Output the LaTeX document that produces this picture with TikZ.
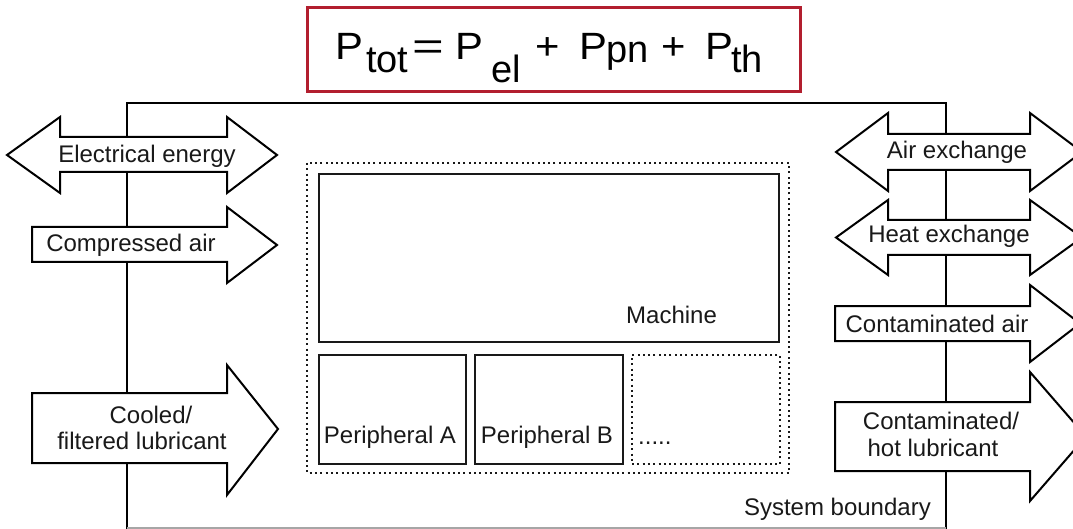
\documentclass[tikz,border=0pt]{standalone}
\usepackage{fontspec}
\setmainfont{Liberation Sans}
\newfontfamily\titlefont{Liberation Sans}[FakeStretch=1.1]
\definecolor{titlered}{RGB}{178,30,46}
\definecolor{ink}{RGB}{25,25,25}
\begin{document}
\begin{tikzpicture}[x=1pt,y=-1pt,
  lbl/.style={font=\fontsize{24}{28}\selectfont, inner sep=0pt, text=ink},
  eqtxt/.style={font=\titlefont\fontsize{38}{40}\selectfont, inner sep=0pt, anchor=base west, text=black},
  subtxt/.style={font=\fontsize{38}{40}\selectfont, inner sep=0pt, anchor=base west, text=black},
  arrowshape/.style={draw=black, line width=2pt, fill=white, line join=miter},
  box/.style={draw=ink, line width=2.2pt},
  dotbox/.style={draw=ink, line width=2pt, dash pattern=on 2pt off 3.3pt},
  bound/.style={draw=black, line width=2pt},
  titlebox/.style={draw=titlered, line width=3pt, inner sep=0pt}]
\clip (0,0) rectangle (1073,529);
\fill[white] (0,0) rectangle (1073,529);

% title
\node[titlebox, minimum width=493pt, minimum height=84pt] (title) at (553.5,50) {};
\node[eqtxt] (p1) at (335,60) {P};
\node[subtxt] (s1) at (366,73) {tot};
\node[eqtxt] (eq) at (412,60) {\scalebox{1.3}[1]{=}};
\node[eqtxt] (p2) at (455,60) {P};
\node[subtxt] (s2) at (491,83) {el};
\node[eqtxt] (pl1) at (535,60) {+};
\node[eqtxt] (p3) at (579,60) {P};
\node[subtxt] (s3) at (606,63) {pn};
\node[eqtxt] (pl2) at (661,60) {+};
\node[eqtxt] (p4) at (705,60) {P};
\node[subtxt] (s4) at (731,73) {th};

% system boundary
\coordinate (bl) at (127,529);
\coordinate (tl) at (127,103);
\coordinate (tr) at (946,103);
\coordinate (br) at (946,529);
\draw[bound] (bl) -- (tl) -- (tr) -- (br);
\draw[black!35, line width=1.5pt] (127,528) -- (946,528);
\node[lbl, anchor=base east] (sysb) at (931,515) {System boundary};

% left arrows
\draw[arrowshape] (7,155) -- (60,117) -- (60,137) -- (227,137) -- (227,117) -- (277,155)
  -- (227,193) -- (227,172) -- (60,172) -- (60,193) -- cycle;
\node[lbl, anchor=base] (elec) at (147,163) {Electrical energy};

\draw[arrowshape] (32,227) -- (227,227) -- (227,207) -- (277,245) -- (227,283) -- (227,262) -- (32,262) -- cycle;
\node[lbl, anchor=base] (comp) at (131,252) {Compressed air};

\draw[arrowshape] (32,393) -- (227,393) -- (227,365) -- (278,429) -- (227,495) -- (227,463) -- (32,463) -- cycle;
\node[lbl, anchor=base] (cool1) at (151,423) {Cooled/};
\node[lbl, anchor=base] (cool2) at (142,449) {filtered lubricant};

% right arrows
\draw[arrowshape] (836,152) -- (888,113) -- (888,134) -- (1030,134) -- (1030,113) -- (1082,152)
  -- (1030,191) -- (1030,170) -- (888,170) -- (888,191) -- cycle;
\node[lbl, anchor=base] (airx) at (957,159) {Air exchange};

\draw[arrowshape] (836,237.5) -- (888,200) -- (888,220) -- (1030,220) -- (1030,200) -- (1082,237.5)
  -- (1030,275) -- (1030,255) -- (888,255) -- (888,275) -- cycle;
\node[lbl, anchor=base] (heatx) at (949,243) {Heat exchange};

\draw[arrowshape] (835,306) -- (1030,306) -- (1030,285) -- (1080,323.5) -- (1030,362) -- (1030,341) -- (835,341) -- cycle;
\node[lbl, anchor=base] (contair) at (937,332) {Contaminated air};

\draw[arrowshape] (835,402) -- (1030,402) -- (1030,372) -- (1086,436.5) -- (1030,501) -- (1030,471) -- (835,471) -- cycle;
\node[lbl, anchor=base] (contl1) at (941,429) {Contaminated/};
\node[lbl, anchor=base] (contl2) at (933,456) {hot lubricant};

% centre
\draw[dotbox] (307,163) rectangle (789,473);
\node[box, anchor=north west, minimum width=460pt, minimum height=168pt, inner sep=0pt] (machine) at (318,173) {};
\node[lbl, anchor=base west] (machinelbl) at (626,323) {Machine};
\node[box, anchor=north west, minimum width=147pt, minimum height=109pt, inner sep=0pt] (pa) at (318,354) {};
\node[lbl, anchor=base] (palbl) at (390,443) {Peripheral A};
\node[box, anchor=north west, minimum width=148pt, minimum height=109pt, inner sep=0pt] (pb) at (474,354) {};
\node[lbl, anchor=base] (pblbl) at (547,443) {Peripheral B};
\node[dotbox, anchor=north west, minimum width=148pt, minimum height=109pt, inner sep=0pt] (pc) at (631,354) {};
\node[lbl, anchor=base west] (dots) at (638,444) {.....};
\end{tikzpicture}
\end{document}
